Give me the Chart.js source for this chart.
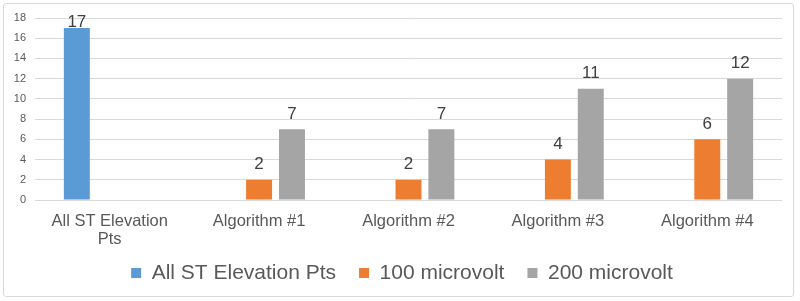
<!DOCTYPE html>
<html lang="en">
<head>
    <meta charset="UTF-8">
    <script src="https://cdn.jsdelivr.net/npm/chart.js"></script>
    <title>ST Elevation Algorithms</title>
    <style>
        body { margin: 0; background: #fff; }
        #wrap { position: relative; width: 800px; height: 301px; }
        #frame { position: absolute; left: 3px; top: 3px; width: 789px; height: 292px;
                 border: 1px solid #d9d9d9; border-radius: 3px; pointer-events: none; }
    </style>
</head>
<body>
    <div id="wrap">
        <canvas id="algoChart" width="800" height="301"></canvas>
        <div id="frame"></div>
    </div>

    <script>
        // chart data
        const categories = [['All ST Elevation', 'Pts'], 'Algorithm #1', 'Algorithm #2', 'Algorithm #3', 'Algorithm #4'];
        const seriesNames = ['All ST Elevation Pts', '100 microvolt', '200 microvolt'];
        const allStValues = [17, null, null, null, null];
        const micro100Values = [null, 2, 2, 4, 6];
        const micro200Values = [null, 7, 7, 11, 12];
        const yTicks = [0, 2, 4, 6, 8, 10, 12, 14, 16, 18];

        const colors = ['#5B9BD5', '#ED7D31', '#A5A5A5'];
        const textGray = '#595959';
        const fontFamily = '"Liberation Sans", Arial, sans-serif';

        // value labels above the bars (kept inside the plot area)
        const barLabels = {
            id: 'barLabels',
            afterDatasetsDraw(chart) {
                const ctx = chart.ctx;
                ctx.save();
                ctx.font = '17px ' + fontFamily;
                ctx.fillStyle = '#404040';
                ctx.textAlign = 'center';
                ctx.textBaseline = 'middle';
                chart.data.datasets.forEach((ds, i) => {
                    const meta = chart.getDatasetMeta(i);
                    meta.data.forEach((bar, j) => {
                        if (ds.data[j] == null) return;
                        const y = Math.max(bar.y - 15, chart.chartArea.top + 4);
                        ctx.fillText(String(ds.data[j]), bar.x, y);
                    });
                });
                ctx.restore();
            }
        };

        // move the legend a bit and let the x labels run past their box
        const legendPlace = {
            id: 'legendPlace',
            afterLayout(chart) {
                const lg = chart.legend;
                const h = lg.bottom - lg.top;
                lg.top = 273 - 23 - 10.5;
                lg.bottom = lg.top + h;
                lg.left += 11;
                lg.right += 11;
                chart.scales.x.bottom = lg.top + 12;
            }
        };

        const ctx = document.getElementById('algoChart').getContext('2d');
        new Chart(ctx, {
            type: 'bar',
            data: {
                labels: categories,
                datasets: [
                    { label: seriesNames[0], data: allStValues, backgroundColor: colors[0] },
                    { label: seriesNames[1], data: micro100Values, backgroundColor: colors[1] },
                    { label: seriesNames[2], data: micro200Values, backgroundColor: colors[2] }
                ]
            },
            options: {
                responsive: false,
                animation: false,
                layout: { padding: { top: 18, right: 18, bottom: 0, left: 0 } },
                datasets: {
                    bar: { categoryPercentage: 0.66, barPercentage: 0.79 }
                },
                scales: {
                    x: {
                        grid: { display: false, drawTicks: false },
                        border: { display: false },
                        ticks: {
                            color: textGray,
                            maxRotation: 0,
                            autoSkip: false,
                            padding: 12.5,
                            font: { family: fontFamily, size: 16.5, lineHeight: 1.1 }
                        },
                        afterFit(scale) {
                            scale.height = scale.chart.height - scale.chart.legend.height - 200;
                        }
                    },
                    y: {
                        min: 0,
                        max: 18,
                        afterBuildTicks(scale) { scale.ticks = yTicks.map(v => ({ value: v })); },
                        grid: { color: '#D9D9D9', drawTicks: false },
                        border: { display: false },
                        ticks: {
                            color: textGray,
                            padding: 9,
                            font: { family: fontFamily, size: 11 }
                        },
                        afterFit(scale) { scale.width = 35; }
                    }
                },
                plugins: {
                    legend: {
                        position: 'bottom',
                        labels: {
                            color: textGray,
                            boxWidth: 10,
                            boxHeight: 10,
                            padding: 23,
                            font: { family: fontFamily, size: 21 }
                        }
                    },
                    tooltip: { enabled: false }
                }
            },
            plugins: [barLabels, legendPlace]
        });
    </script>
</body>
</html>
